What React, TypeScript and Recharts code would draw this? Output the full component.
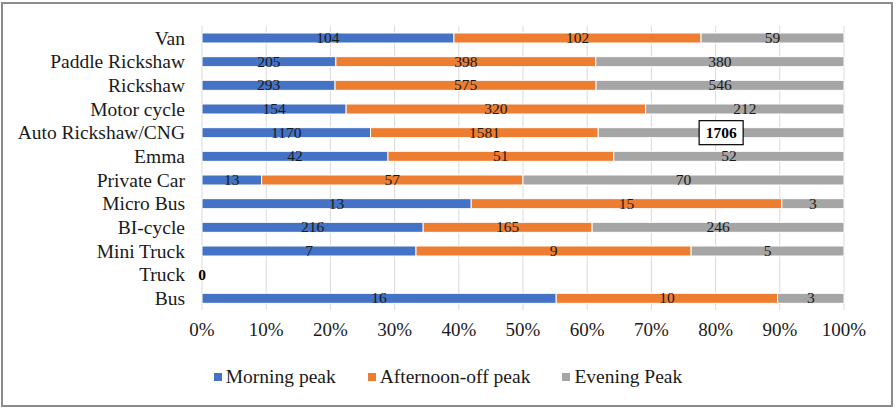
import { BarChart, Bar, XAxis, YAxis, CartesianGrid, LabelList, ReferenceDot } from "recharts";

/* ================= DATA ================= */

const vehicles = [
  "Van",
  "Paddle Rickshaw",
  "Rickshaw",
  "Motor cycle",
  "Auto Rickshaw/CNG",
  "Emma",
  "Private Car",
  "Micro Bus",
  "BI-cycle",
  "Mini Truck",
  "Truck",
  "Bus",
];

const morningPeak = [104, 205, 293, 154, 1170, 42, 13, 13, 216, 7, 0, 16];
const afternoonOffPeak = [102, 398, 575, 320, 1581, 51, 57, 15, 165, 9, 0, 10];
const eveningPeak = [59, 380, 546, 212, 1706, 52, 70, 3, 246, 5, 0, 3];

const pctTicks = [0, 0.1, 0.2, 0.3, 0.4, 0.5, 0.6, 0.7, 0.8, 0.9, 1];

const data = vehicles.map((name, i) => ({
  name,
  morning: morningPeak[i],
  afternoon: afternoonOffPeak[i],
  evening: eveningPeak[i],
}));

const SERIES = [
  { key: "morning", label: "Morning peak", color: "#4472C4" },
  { key: "afternoon", label: "Afternoon-off peak", color: "#ED7D31" },
  { key: "evening", label: "Evening Peak", color: "#A5A5A5" },
];

const FONT = "'Liberation Serif', 'Times New Roman', serif";
const TEXT = "#1a1a1a";

const truckIdx = vehicles.indexOf("Truck");

/* ================= LABELS ================= */

function makeLabel(seriesKey: string) {
  return (props: any) => {
    const { x, y, width, height, value, index } = props;
    if (!value) return null;
    const cx = Number(x) + Number(width) / 2;
    const cy = Number(y) + Number(height) / 2;
    // the big CNG evening value is boxed and bold in the original
    if (seriesKey === "evening" && vehicles[index] === "Auto Rickshaw/CNG") {
      return (
        <g>
          <rect x={cx - 22} y={cy - 12} width={44} height={24} fill="#fff" stroke="#000" strokeWidth={1.2} />
          <text x={cx} y={cy} dy={5} textAnchor="middle" fontFamily={FONT} fontSize={15.5} fontWeight="bold" fill="#000">
            {value}
          </text>
        </g>
      );
    }
    return (
      <text x={cx} y={cy} dy={5} textAnchor="middle" fontFamily={FONT} fontSize={15.5} fill={TEXT}>
        {value}
      </text>
    );
  };
}

function LegendRow() {
  return (
    <div
      style={{
        position: "absolute",
        left: 0,
        top: 366,
        width: 896,
        display: "flex",
        justifyContent: "center",
        gap: 32,
        fontFamily: FONT,
        fontSize: 19.5,
        color: TEXT,
        lineHeight: "22px",
      }}
    >
      {SERIES.map((s) => (
        <div key={s.key} style={{ display: "flex", alignItems: "center" }}>
          <span style={{ width: 8, height: 8, background: s.color, marginRight: 4, display: "inline-block" }} />
          {s.label}
        </div>
      ))}
    </div>
  );
}

/* ================= COMPONENT ================= */

export default function App() {
  return (
    <div style={{ position: "absolute", left: 0, top: 0, width: 896, height: 411, background: "#fff" }}>
      <div
        style={{
          position: "absolute",
          left: 1,
          top: 2,
          width: 888,
          height: 401,
          border: "2px solid #8c8c8c",
        }}
      />
      <BarChart
        width={896}
        height={411}
        data={data}
        layout="vertical"
        stackOffset="expand"
        barSize={10}
        margin={{ top: 26, right: 52, bottom: 61, left: 0 }}
      >
        <CartesianGrid horizontal={false} stroke="#D9D9D9" />
        <XAxis
          type="number"
          domain={[0, 1]}
          ticks={pctTicks}
          tickFormatter={(v: number) => `${Math.round(v * 100)}%`}
          axisLine={false}
          tickLine={false}
          tickSize={0}
          tickMargin={13}
          tick={{ fontFamily: FONT, fontSize: 19, fill: TEXT }}
          height={40}
        />
        <YAxis
          type="category"
          dataKey="name"
          width={202}
          axisLine={false}
          tickLine={false}
          tickSize={0}
          tickMargin={17}
          interval={0}
          tick={{ fontFamily: FONT, fontSize: 19.5, fill: TEXT }}
        />
        {SERIES.map((s) => (
          <Bar
            key={s.key}
            dataKey={s.key}
            name={s.label}
            stackId="a"
            fill={s.color}
            stroke="#fff"
            strokeWidth={1}
            isAnimationActive={false}
          >
            <LabelList dataKey={s.key} content={makeLabel(s.key)} />
          </Bar>
        ))}
        {/* Truck has no trips at all, the zero label sits on the axis */}
        <ReferenceDot
          x={0}
          y="Truck"
          r={0}
          ifOverflow="visible"
          label={{
            value: morningPeak[truckIdx],
            position: "center",
            fontFamily: FONT,
            fontSize: 15.5,
            fontWeight: "bold",
            fill: "#000",
          }}
        />
      </BarChart>
      <LegendRow />
    </div>
  );
}
